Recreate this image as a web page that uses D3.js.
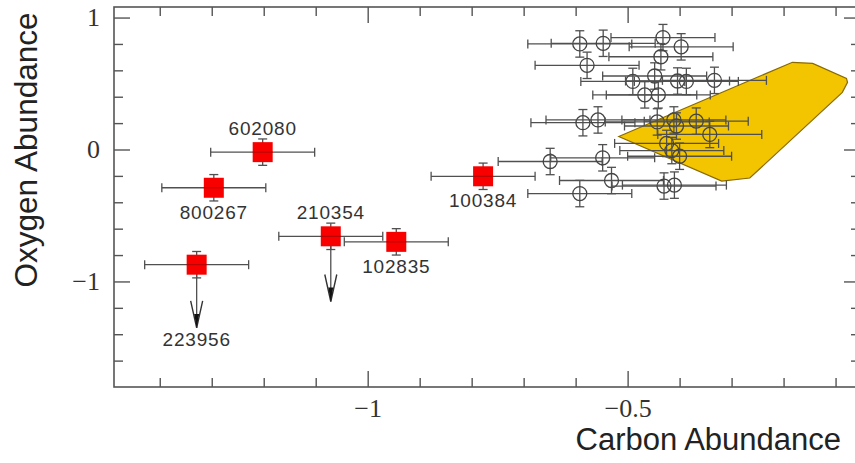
<!DOCTYPE html>
<html lang="en">
<head>
<meta charset="utf-8" />
<title>Oxygen vs Carbon Abundance</title>
<style>
  body{margin:0;background:#fff;}
  .bar{stroke:#505050;stroke-width:1.3;fill:none;}
  .tick text{font-family:"Liberation Serif","Times New Roman",serif;font-size:26px;fill:#333;}
  .tick line{stroke:#555;stroke-width:1.4;}
</style>
</head>
<body>
<script src="https://cdn.jsdelivr.net/npm/d3@7/dist/d3.min.js"></script>
<script>
var width = 855, height = 463;

// open circles - comparison sample
var cX = [-0.592,-0.547,-0.432,-0.397,-0.578,-0.436,-0.490,-0.448,-0.404,-0.387,
          -0.333,-0.467,-0.441,-0.586,-0.557,-0.443,-0.411,-0.406,-0.368,-0.342,
          -0.425,-0.415,-0.400,-0.649,-0.548,-0.531,-0.430,-0.410,-0.592];
var cY = [0.800,0.805,0.848,0.778,0.638,0.703,0.516,0.557,0.519,0.516,
          0.524,0.414,0.414,0.203,0.224,0.209,0.224,0.178,0.215,0.114,
          0.046,-0.008,-0.051,-0.091,-0.063,-0.235,-0.277,-0.270,-0.334];
var cXerr = [0.10,0.10,0.10,0.10,0.10,0.10,0.10,0.10,0.10,0.10,
             0.10,0.10,0.10,0.10,0.10,0.10,0.10,0.10,0.10,0.10,
             0.10,0.10,0.10,0.10,0.10,0.10,0.10,0.10,0.10];
var cYerr = [0.10,0.10,0.10,0.10,0.10,0.10,0.10,0.10,0.10,0.10,
             0.10,0.10,0.10,0.10,0.10,0.10,0.10,0.10,0.10,0.10,
             0.10,0.10,0.10,0.10,0.10,0.10,0.10,0.10,0.10];

// red squares - named stars
var rNames = ["602080","800267","223956","210354","102835","100384"];
var rX     = [-1.202,-1.296,-1.329,-1.071,-0.945,-0.778];
var rY     = [-0.020,-0.290,-0.873,-0.658,-0.700,-0.203];
var rXerr  = [0.10,0.10,0.10,0.10,0.10,0.10];
var rYerr  = [0.10,0.10,0.10,0.10,0.10,0.10];
var rLimit = [null,null,-1.352,-1.152,null,null];   // upper limits: arrow tip
var rSide  = ["above","below","below","above","below","below"];

// yellow region
var polyX = [-0.517,-0.183,-0.144,-0.079,-0.077,-0.087,-0.265,-0.319];
var polyY = [0.099,0.661,0.653,0.539,0.509,0.433,-0.216,-0.239];

var xMinor = [-1.4,-1.3,-1.2,-1.1,-0.9,-0.8,-0.7,-0.6,-0.4,-0.3,-0.2,-0.1];
var xMajor = [-1,-0.5];
var xLabels = ["\u22121","\u22120.5"];
var yMinor = [0.8,0.6,0.4,0.2,-0.2,-0.4,-0.6,-0.8,-1.2,-1.4,-1.6];
var yMajor = [1,0,-1];
var yLabels = ["1","0","\u22121"];

var x = d3.scaleLinear().domain([-1.488,-0.053]).range([114,860]);
var y = d3.scaleLinear().domain([-1.8,1.08]).range([387,7]);

var svg = d3.select("body").append("svg")
    .attr("width", width)
    .attr("height", height);

// polygon behind everything
svg.append("path")
    .datum(polyX.map(function(d,i){return [x(d), y(polyY[i])];}))
    .attr("d", function(d){return "M" + d.join("L") + "Z";})
    .attr("fill","#f2c500")
    .attr("stroke","#8a6a00")
    .attr("stroke-width",1.2);

// axes: ticks inward on all four sides
function addAxis(axis, tx, ty){
    var g = svg.append("g").attr("transform","translate("+tx+","+ty+")").call(axis);
    g.select(".domain").remove();
    return g;
}
addAxis(d3.axisBottom(x).tickValues(xMinor).tickSize(-9).tickFormat(""), 0, 387);
addAxis(d3.axisBottom(x).tickValues(xMajor).tickSize(-16).tickPadding(12)
    .tickFormat(function(d,i){return xLabels[i];}), 0, 387);
addAxis(d3.axisTop(x).tickValues(xMinor).tickSize(-9).tickFormat(""), 0, 7);
addAxis(d3.axisTop(x).tickValues(xMajor).tickSize(-16).tickFormat(""), 0, 7);
addAxis(d3.axisLeft(y).tickValues(yMinor).tickSize(-9).tickFormat(""), 114, 0);
addAxis(d3.axisLeft(y).tickValues(yMajor).tickSize(-16).tickPadding(14)
    .tickFormat(function(d,i){return yLabels[i];}), 114, 0);
addAxis(d3.axisRight(y).tickValues(yMinor).tickSize(-9).tickFormat(""), 860, 0);
addAxis(d3.axisRight(y).tickValues(yMajor).tickSize(-16).tickFormat(""), 860, 0);

svg.append("rect")
    .attr("x",114).attr("y",7)
    .attr("width",860-114).attr("height",387-7)
    .attr("fill","none").attr("stroke","#555").attr("stroke-width",1.6);

// error bars helper
function errBars(g, px, py, xe, ye, cap){
    g.append("line").attr("class","bar")
        .attr("x1",x(px-xe)).attr("x2",x(px+xe)).attr("y1",y(py)).attr("y2",y(py));
    g.append("line").attr("class","bar")
        .attr("x1",x(px)).attr("x2",x(px)).attr("y1",y(py-ye)).attr("y2",y(py+ye));
    [px-xe,px+xe].forEach(function(v){
        g.append("line").attr("class","bar")
            .attr("x1",x(v)).attr("x2",x(v)).attr("y1",y(py)-cap).attr("y2",y(py)+cap);
    });
    [py-ye,py+ye].forEach(function(v){
        g.append("line").attr("class","bar")
            .attr("x1",x(px)-cap).attr("x2",x(px)+cap).attr("y1",y(v)).attr("y2",y(v));
    });
}

var gc = svg.append("g");
cX.forEach(function(d,i){
    errBars(gc, d, cY[i], cXerr[i], cYerr[i], 4.5);
    gc.append("circle")
        .attr("cx",x(d)).attr("cy",y(cY[i])).attr("r",7)
        .attr("fill","none").attr("stroke","#444").attr("stroke-width",1.3);
});

var gr = svg.append("g");
rX.forEach(function(d,i){
    errBars(gr, d, rY[i], rXerr[i], rYerr[i], 4.5);
    if (rLimit[i] !== null) {
        var tx = x(d), ty = y(rLimit[i]);
        gr.append("line").attr("class","bar")
            .attr("x1",tx).attr("x2",tx).attr("y1",y(rY[i])).attr("y2",ty);
        gr.append("path")
            .attr("d","M"+(tx-6)+","+(ty-27)+"L"+tx+","+ty+"L"+(tx+6)+","+(ty-27))
            .attr("fill","none").attr("stroke","#333").attr("stroke-width",1.4);
        gr.append("path")
            .attr("d","M"+(tx-2.5)+","+(ty-14)+"L"+tx+","+ty+"L"+(tx+2.5)+","+(ty-14)+"Z")
            .attr("fill","#111");
    }
});
gr.selectAll("rect")
    .data(rX)
    .enter().append("rect")
    .attr("x",function(d){return x(d)-10;})
    .attr("y",function(d,i){return y(rY[i])-10;})
    .attr("width",20).attr("height",20)
    .attr("fill","#f80000");
// faint bar lines through the squares
rX.forEach(function(d,i){
    gr.append("line").attr("stroke","#600").attr("stroke-width",1).attr("opacity",0.5)
        .attr("x1",x(d)-10).attr("x2",x(d)+10).attr("y1",y(rY[i])).attr("y2",y(rY[i]));
});

// star names
svg.append("g").selectAll("text")
    .data(rNames)
    .enter().append("text")
    .attr("x",function(d,i){return x(rX[i]);})
    .attr("y",function(d,i){
        if (rLimit[i] !== null && rSide[i] === "below") return y(rLimit[i]) + 18;
        return rSide[i] === "above" ? y(rY[i]) - 17 : y(rY[i]) + 31;
    })
    .attr("text-anchor","middle")
    .attr("font-family","'Liberation Sans',Arial,sans-serif")
    .attr("font-size",19)
    .attr("letter-spacing",0.8)
    .attr("fill","#333")
    .text(function(d){return d;});

// axis titles
svg.append("text")
    .attr("x",841).attr("y",450)
    .attr("text-anchor","end")
    .attr("font-family","'Liberation Sans',Arial,sans-serif")
    .attr("font-size",31)
    .attr("fill","#222")
    .text("Carbon Abundance");
svg.append("text")
    .attr("transform","translate(37,150) rotate(-90)")
    .attr("text-anchor","middle")
    .attr("font-family","'Liberation Sans',Arial,sans-serif")
    .attr("font-size",32)
    .attr("textLength",275).attr("lengthAdjust","spacingAndGlyphs")
    .attr("fill","#222")
    .text("Oxygen Abundance");
</script>
</body>
</html>
